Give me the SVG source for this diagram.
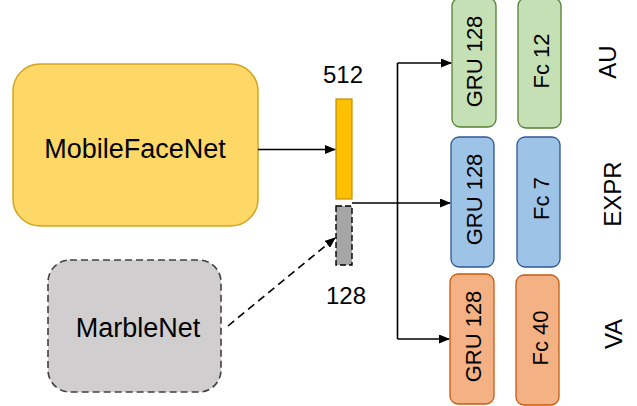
<svg xmlns="http://www.w3.org/2000/svg" width="637" height="406" viewBox="0 0 637 406">
  <defs>
    <marker id="arrow" markerUnits="userSpaceOnUse" markerWidth="11" markerHeight="9" refX="10" refY="4.5" orient="auto">
      <path d="M0,0 L11,4.5 L0,9 z" fill="#000"/>
    </marker>
    <style>
      text { font-family: "Liberation Sans", Arial, sans-serif; fill: #000; }
      .big { font-size: 27px; }
      .num { font-size: 24px; }
      .lbl { font-size: 22px; }
      .task { font-size: 24px; }
      .link { fill: none; stroke: #000; stroke-width: 1.6; }
      .green { fill: #C5E0B4; stroke: #548235; stroke-width: 1.3; }
      .blue { fill: #9DC3E6; stroke: #2F5597; stroke-width: 1.3; }
      .orange { fill: #F4B183; stroke: #C55A11; stroke-width: 1.3; }
    </style>
  </defs>

  <!-- backbone networks -->
  <g id="mobilefacenet">
    <rect x="13" y="64" width="245" height="162" rx="27" fill="#FDD866" stroke="#D2A521" stroke-width="1.5"/>
    <text class="big" x="135" y="158" text-anchor="middle">MobileFaceNet</text>
  </g>
  <g id="marblenet">
    <rect x="48" y="260" width="173" height="132" rx="22" fill="#D0CECE" stroke="#404040" stroke-width="1.6" stroke-dasharray="7,4"/>
    <text class="big" x="138" y="337" text-anchor="middle">MarbleNet</text>
  </g>

  <!-- feature vectors -->
  <g id="feat512">
    <rect x="336" y="99" width="16" height="100" fill="#FFC000" stroke="#BF9000" stroke-width="1.2"/>
    <text class="num" x="343" y="83" text-anchor="middle">512</text>
  </g>
  <g id="feat128">
    <rect x="336" y="206" width="16" height="59" fill="#A6A6A6" stroke="#000" stroke-width="1.4" stroke-dasharray="6,3"/>
    <text class="num" x="346" y="304" text-anchor="middle">128</text>
  </g>

  <!-- AU head -->
  <g id="au-gru">
    <rect class="green" x="452" y="-2" width="44" height="129" rx="8"/>
    <text class="lbl" transform="translate(482,61.5) rotate(-90)" text-anchor="middle">GRU 128</text>
  </g>
  <g id="au-fc">
    <rect class="green" x="518" y="-2" width="43" height="130" rx="8"/>
    <text class="lbl" transform="translate(548.5,61) rotate(-90)" text-anchor="middle">Fc 12</text>
  </g>
  <g id="au-label">
    <text class="task" transform="translate(616,62) rotate(-90)" text-anchor="middle">AU</text>
  </g>

  <!-- EXPR head -->
  <g id="expr-gru">
    <rect class="blue" x="451" y="137" width="43" height="130" rx="8"/>
    <text class="lbl" transform="translate(481.5,199.5) rotate(-90)" text-anchor="middle">GRU 128</text>
  </g>
  <g id="expr-fc">
    <rect class="blue" x="517" y="137" width="43" height="130" rx="8"/>
    <text class="lbl" transform="translate(549,198.5) rotate(-90)" text-anchor="middle">Fc 7</text>
  </g>
  <g id="expr-label">
    <text class="task" transform="translate(621,194) rotate(-90)" text-anchor="middle">EXPR</text>
  </g>

  <!-- VA head -->
  <g id="va-gru">
    <rect class="orange" x="450" y="274" width="44" height="130" rx="8"/>
    <text class="lbl" transform="translate(481,336.5) rotate(-90)" text-anchor="middle">GRU 128</text>
  </g>
  <g id="va-fc">
    <rect class="orange" x="516" y="275" width="43" height="130" rx="8"/>
    <text class="lbl" transform="translate(547.5,338) rotate(-90)" text-anchor="middle">Fc 40</text>
  </g>
  <g id="va-label">
    <text class="task" transform="translate(622,334) rotate(-90)" text-anchor="middle">VA</text>
  </g>

  <!-- connectors -->
  <g id="connectors">
    <line class="link" x1="258" y1="149.5" x2="335" y2="149.5" marker-end="url(#arrow)"/>
    <line class="link" x1="228" y1="326" x2="335" y2="238" stroke-dasharray="8,5" marker-end="url(#arrow)"/>
    <line class="link" x1="397.5" y1="63" x2="397.5" y2="339"/>
    <line class="link" x1="397.5" y1="63" x2="451" y2="63" marker-end="url(#arrow)"/>
    <line class="link" x1="352" y1="203" x2="450" y2="203" marker-end="url(#arrow)"/>
    <line class="link" x1="397.5" y1="339" x2="449" y2="339" marker-end="url(#arrow)"/>
  </g>
</svg>
